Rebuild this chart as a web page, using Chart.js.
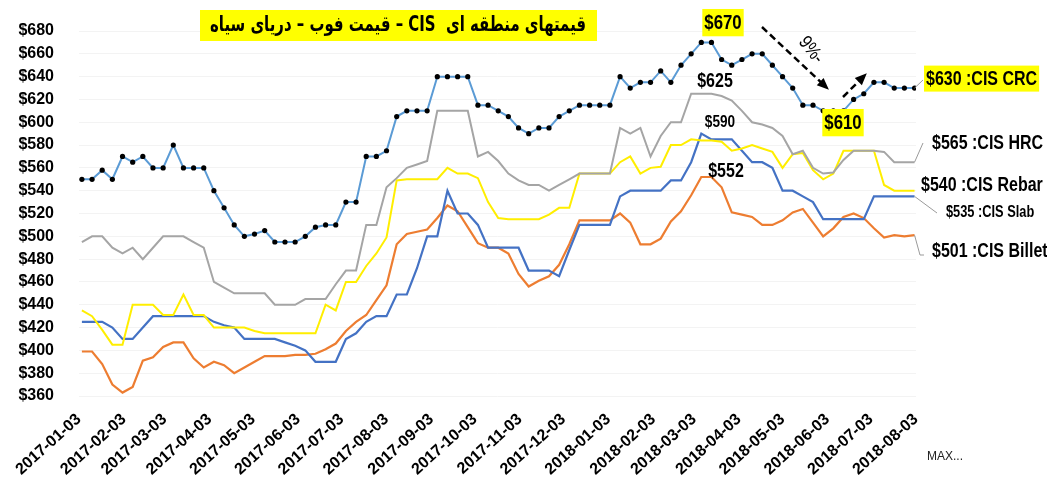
<!DOCTYPE html>
<html>
<head>
<meta charset="utf-8">
<script src="https://cdn.jsdelivr.net/npm/chart.js@4.4.0/dist/chart.umd.min.js"></script>
<style>
  html, body { margin: 0; padding: 0; background: #fff; }
  canvas { display: block; }
</style>
</head>
<body>
<canvas id="cisChart" width="1047" height="478"></canvas>
<script>
// weekly prices, first week 2017-01-05
const firstWeek = '2017-01-05';

const crcPrices = [
  550, 550, 558, 550, 570, 565, 570, 560, 560, 580,
  560, 560, 560, 540, 525, 510, 500, 502, 505, 495,
  495, 495, 500, 508, 510, 510, 530, 530, 570, 570,
  575, 605, 610, 610, 610, 640, 640, 640, 640, 615,
  615, 610, 605, 595, 590, 595, 595, 605, 610, 615,
  615, 615, 615, 640, 630, 635, 635, 645, 635, 650,
  660, 670, 670, 655, 650, 655, 660, 660, 650, 640,
  630, 615, 615, 610, 610, 610, 620, 625, 635, 635,
  630, 630, 630
];
const hrcPrices = [
  495, 500, 500, 490, 485, 490, 480, 490, 500, 500,
  500, 495, 490, 460, 455, 450, 450, 450, 450, 440,
  440, 440, 445, 445, 445, 458, 470, 470, 510, 510,
  543, 551, 560, 563, 566, 610, 610, 610, 610, 570,
  574, 566, 555, 549, 545, 545, 540, 545, 550, 555,
  555, 555, 555, 595, 590, 595, 570, 588, 600, 600,
  625, 625, 625, 623, 619, 610, 600, 598, 595, 588,
  572, 575, 560, 555, 556, 567, 575, 575, 575, 574,
  565, 565, 565
];
const rebarPrices = [
  435, 430, 418, 405, 405, 440, 440, 440, 431, 431,
  449, 431, 431, 420, 420, 420, 420, 417, 415, 415,
  415, 415, 415, 415, 440, 435, 460, 460, 474, 485,
  499, 549, 550, 550, 550, 550, 560, 555, 555, 551,
  530, 516, 515, 515, 515, 515, 519, 525, 525, 555,
  555, 555, 555, 565, 570, 555, 560, 561, 580, 580,
  585, 584, 584, 583, 575, 577, 580, 577, 574, 560,
  572, 573, 558, 550, 555, 575, 575, 575, 575, 545,
  540, 540, 540
];
const slabPrices = [
  425, 425, 425, 420, 410, 410, 420, 430, 430, 430,
  430, 430, 430, 425, 422, 420, 410, 410, 410, 410,
  407, 404, 400, 390, 390, 390, 410, 415, 425, 430,
  430, 449, 449, 472, 500, 500, 540, 520, 520, 510,
  490, 490, 490, 490, 470, 470, 470, 465, 488, 510,
  510, 510, 510, 535, 540, 540, 540, 540, 549, 549,
  565, 590, 585, 585, 585, 575, 565, 565, 560, 540,
  540, 535, 530, 515, 515, 515, 515, 515, 535, 535,
  535, 535, 535
];
const billetPrices = [
  399, 399, 388, 370, 363, 368, 391, 394, 403, 407,
  407, 393, 385, 390, 387, 380, 385, 390, 395, 395,
  395, 396, 396, 397, 401, 406, 417, 425, 431, 444,
  457, 493, 502, 504, 506, 516, 527, 522, 508, 494,
  490, 490, 485, 467, 456, 461, 465, 475, 493, 514,
  514, 514, 514, 520, 512, 493, 493, 498, 513, 522,
  536, 552, 552, 543, 521, 519, 517, 510, 510, 514,
  521, 524, 512, 500, 507, 517, 520, 516, 507, 499,
  501, 500, 501
];

const monthTicks = [
  '2017-01-03', '2017-02-03', '2017-03-03', '2017-04-03', '2017-05-03',
  '2017-06-03', '2017-07-03', '2017-08-03', '2017-09-03', '2017-10-03',
  '2017-11-03', '2017-12-03', '2018-01-03', '2018-02-03', '2018-03-03',
  '2018-04-03', '2018-05-03', '2018-06-03', '2018-07-03', '2018-08-03'
];

const titleText = 'قیمتهای منطقه ای  CIS – قیمت فوب – دریای سیاه';

// days since first month tick
const dayOf = s => (Date.parse(s) - Date.parse(monthTicks[0])) / 86400000;
const tickDays = monthTicks.map(dayOf);
const weekDay = i => dayOf(firstWeek) + 7 * i;
const toPoints = arr => arr.map((v, i) => ({ x: weekDay(i), y: v }));

const colors = {
  crc: '#5b9bd5',
  hrc: '#a5a5a5',
  rebar: '#ffee00',
  slab: '#4472c4',
  billet: '#ed7d31'
};

const sans = '"Liberation Sans", Arial, sans-serif';

// annotations, labels, arrows
const notes = {
  id: 'notes',
  afterDraw(chart) {
    const ctx = chart.ctx;
    const y = chart.scales.y;
    const x = chart.scales.x;
    const last = arr => arr[arr.length - 1];
    const endX = x.getPixelForValue(weekDay(crcPrices.length - 1));
    ctx.save();

    // title box
    ctx.fillStyle = '#ffff00';
    ctx.fillRect(200, 10, 397, 31);
    ctx.fillStyle = '#000';
    ctx.direction = 'rtl';
    ctx.font = 'bold 21px "DejaVu Sans", sans-serif';
    const tw0 = ctx.measureText(titleText).width;
    ctx.save();
    ctx.translate(398, 26);
    ctx.scale(Math.min(1, 376 / tw0), 1);
    ctx.textAlign = 'center';
    ctx.textBaseline = 'middle';
    ctx.fillText(titleText, 0, 0);
    ctx.restore();
    ctx.direction = 'ltr';

    // condensed bold text, optional yellow background
    const squeeze = 0.8;
    const boxText = (txt, cx, cy, size, bg, align) => {
      ctx.font = 'bold ' + size + 'px ' + sans;
      const tw = ctx.measureText(txt).width * squeeze;
      const left = align === 'left' ? cx : cx - tw / 2;
      if (bg) {
        ctx.fillStyle = bg;
        ctx.fillRect(left - 2, cy - size * 0.62, tw + 4, size * 1.3);
      }
      ctx.save();
      ctx.translate(left, cy + 1);
      ctx.scale(squeeze, 1);
      ctx.fillStyle = '#000';
      ctx.textAlign = 'left';
      ctx.textBaseline = 'middle';
      ctx.fillText(txt, 0, 0);
      ctx.restore();
    };

    // point labels
    boxText('$' + Math.max(...crcPrices), 723, 22, 21, '#ffff00');
    boxText('$' + Math.max(...hrcPrices), 715, 80, 20);
    boxText('$' + Math.max(...slabPrices), 720, 121, 17);
    boxText('$' + Math.max(...billetPrices), 726, 170, 20);
    boxText('$' + Math.min(...crcPrices.slice(60)), 843, 122, 21, '#ffff00');

    // leader lines
    ctx.strokeStyle = '#9a9a9a';
    ctx.lineWidth = 1;
    const leader = (arr, pts) => {
      ctx.beginPath();
      ctx.moveTo(endX, y.getPixelForValue(last(arr)));
      pts.forEach(p => ctx.lineTo(p[0], p[1]));
      ctx.stroke();
    };
    leader(crcPrices, [[923, 80]]);
    leader(hrcPrices, [[923, 143]]);
    leader(slabPrices, [[937, 213]]);
    leader(billetPrices, [[920, 255], [924, 255]]);

    // series end labels
    boxText('$' + last(crcPrices) + ' :CIS CRC', 926, 78, 20, '#ffff00', 'left');
    boxText('$' + last(hrcPrices) + ' :CIS HRC', 932, 142, 20, null, 'left');
    boxText('$' + last(rebarPrices) + ' :CIS Rebar', 921, 184, 20, null, 'left');
    boxText('$' + last(slabPrices) + ' :CIS Slab', 946, 212, 16, null, 'left');
    boxText('$' + last(billetPrices) + ' :CIS Billet', 932, 250, 20, null, 'left');

    // dashed arrows
    const arrow = (x1, y1, x2, y2) => {
      ctx.strokeStyle = '#000';
      ctx.lineWidth = 2.5;
      ctx.setLineDash([7, 4]);
      ctx.beginPath();
      ctx.moveTo(x1, y1);
      ctx.lineTo(x2, y2);
      ctx.stroke();
      ctx.setLineDash([]);
      const a = Math.atan2(y2 - y1, x2 - x1);
      ctx.fillStyle = '#000';
      ctx.beginPath();
      ctx.moveTo(x2 + 4 * Math.cos(a), y2 + 4 * Math.sin(a));
      ctx.lineTo(x2 - 8 * Math.cos(a) + 5 * Math.sin(a), y2 - 8 * Math.sin(a) - 5 * Math.cos(a));
      ctx.lineTo(x2 - 8 * Math.cos(a) - 5 * Math.sin(a), y2 - 8 * Math.sin(a) + 5 * Math.cos(a));
      ctx.closePath();
      ctx.fill();
    };
    arrow(762, 27, 826, 87);
    arrow(843, 97, 864, 76);

    // -9% text
    ctx.save();
    ctx.translate(811, 50);
    ctx.rotate(52 * Math.PI / 180);
    ctx.scale(0.85, 1);
    ctx.font = '19px ' + sans;
    ctx.fillStyle = '#000';
    ctx.textAlign = 'center';
    ctx.textBaseline = 'middle';
    ctx.fillText('9%-', 0, 0);
    ctx.restore();

    ctx.font = '12px ' + sans;
    ctx.fillStyle = '#222';
    ctx.textAlign = 'left';
    ctx.textBaseline = 'middle';
    ctx.fillText('MAX...', 927, 457);

    ctx.restore();
  }
};

const line = (label, data, color, width, extra) => Object.assign({
  label,
  data: toPoints(data),
  borderColor: color,
  backgroundColor: color,
  borderWidth: width,
  pointRadius: 0,
  tension: 0
}, extra || {});

new Chart(document.getElementById('cisChart'), {
  type: 'line',
  data: {
    datasets: [
      line('CIS CRC', crcPrices, colors.crc, 2, {
        pointRadius: 2.6,
        pointBackgroundColor: '#000',
        pointBorderWidth: 0
      }),
      line('CIS HRC', hrcPrices, colors.hrc, 2),
      line('CIS Rebar', rebarPrices, colors.rebar, 2),
      line('CIS Slab', slabPrices, colors.slab, 2.2),
      line('CIS Billet', billetPrices, colors.billet, 2.2)
    ]
  },
  options: {
    responsive: false,
    animation: false,
    devicePixelRatio: 1,
    layout: { padding: { top: 31, right: 131, left: 0, bottom: 0 } },
    plugins: {
      legend: { display: false },
      tooltip: { enabled: false }
    },
    scales: {
      x: {
        type: 'linear',
        min: 0,
        max: tickDays[tickDays.length - 1],
        afterBuildTicks: axis => { axis.ticks = tickDays.map(v => ({ value: v })); },
        afterFit: axis => { axis.height = 82; },
        grid: { display: false },
        border: { display: false },
        ticks: {
          autoSkip: false,
          minRotation: 42,
          maxRotation: 42,
          padding: 6,
          color: '#000',
          font: { family: sans, weight: 'bold', size: 16 },
          callback: v => monthTicks[tickDays.indexOf(v)]
        }
      },
      y: {
        min: 360,
        max: 680,
        afterFit: axis => {
          axis.width = 79;
          axis.paddingTop = 0;
          axis.paddingBottom = 0;
        },
        grid: { color: '#f3f3f3', drawTicks: false },
        border: { display: false },
        ticks: {
          stepSize: 20,
          padding: 25,
          color: '#000',
          font: { family: sans, weight: 'bold', size: 16 },
          callback: v => '$' + v
        }
      }
    }
  },
  plugins: [notes]
});
</script>
</body>
</html>
